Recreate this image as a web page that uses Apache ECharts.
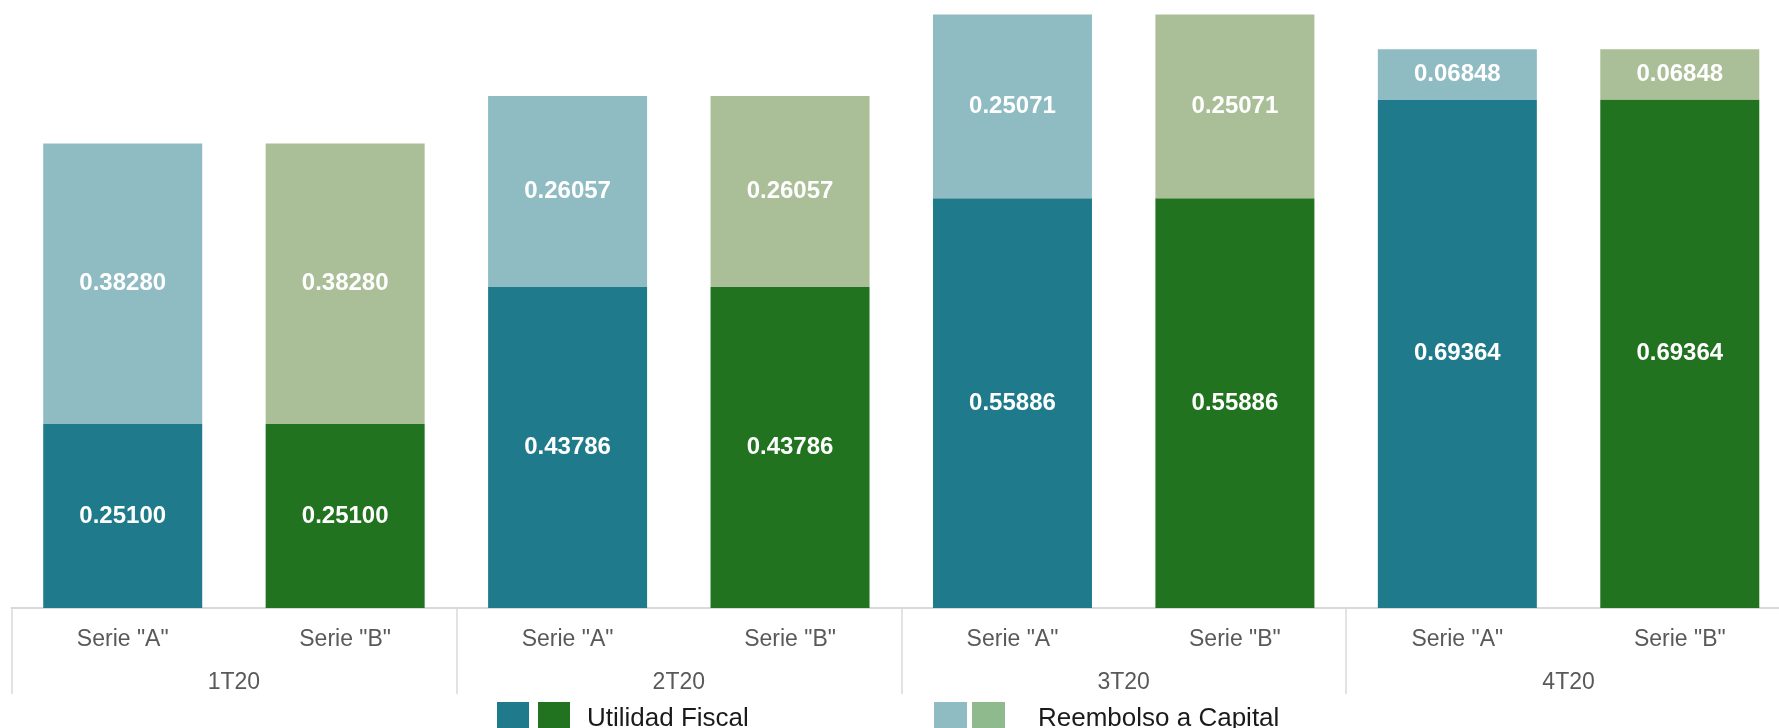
<!DOCTYPE html>
<html>
<head>
<meta charset="utf-8">
<script src="https://cdn.jsdelivr.net/npm/echarts@6/dist/echarts.min.js"></script>
<style>
  html, body { margin: 0; padding: 0; background: #fff; }
  #chart { width: 1779px; height: 728px; }
</style>
</head>
<body>
<div id="chart"></div>
<script>
// categorías y valores
const series_labels = ['Serie "A"', 'Serie "B"', 'Serie "A"', 'Serie "B"', 'Serie "A"', 'Serie "B"', 'Serie "A"', 'Serie "B"']
const quarters = ['1T20', '2T20', '3T20', '4T20']
const utilidadA = [0.25100, 0.43786, 0.55886, 0.69364]
const utilidadB = [0.25100, 0.43786, 0.55886, 0.69364]
const reembolsoA = [0.38280, 0.26057, 0.25071, 0.06848]
const reembolsoB = [0.38280, 0.26057, 0.25071, 0.06848]

const FONT = '"Liberation Sans", Arial, sans-serif'

// coloca cada valor en su columna (A = par, B = impar)
const spread = (vals, slot) => {
  const out = []
  vals.forEach(v => {
    out.push(slot === 0 ? v : 0)
    out.push(slot === 1 ? v : 0)
  })
  return out
}

const label = {
  show: true,
  position: 'inside',
  color: '#fff',
  fontFamily: FONT,
  fontWeight: 'bold',
  fontSize: 24,
  formatter: p => (p.value ? p.value.toFixed(5) : '')
}

const mkSeries = (name, data, color) => ({
  name,
  type: 'bar',
  stack: 'total',
  barWidth: 159,
  data,
  itemStyle: { color },
  label,
  emphasis: { disabled: true }
})

const chart = echarts.init(document.getElementById('chart'))
chart.setOption({
  animation: false,
  // el área de trazado sobresale un poco por la derecha, como en el original
  grid: { left: 11.5, right: -12, top: 6.9, bottom: 120, containLabel: false, outerBoundsMode: 'none' },
  legend: [
    {
      data: [
        { name: 'uA', itemStyle: { color: '#1f7b8b' } },
        { name: 'uB', itemStyle: { color: '#22731f' } }
      ],
      left: 492, top: 697,
      itemWidth: 32, itemHeight: 33, itemGap: 9,
      icon: 'rect', selectedMode: false,
      formatter: n => (n === 'uB' ? 'Utilidad Fiscal' : ''),
      textStyle: { fontFamily: FONT, fontSize: 26, color: '#1a1a1a', padding: [0, 0, 0, 12] }
    },
    {
      data: [
        { name: 'rA', itemStyle: { color: '#8fbcc3' } },
        { name: 'rB', itemStyle: { color: '#8fba8d' } }
      ],
      left: 929, top: 697,
      itemWidth: 33, itemHeight: 33, itemGap: 5,
      icon: 'rect', selectedMode: false,
      formatter: n => (n === 'rB' ? 'Reembolso a Capital' : ''),
      textStyle: { fontFamily: FONT, fontSize: 26, color: '#1a1a1a', padding: [0, 0, 0, 28] }
    }
  ],
  xAxis: [
    {
      type: 'category',
      data: series_labels,
      position: 'bottom',
      axisLine: { show: true, lineStyle: { color: '#d9d9d9', width: 2 } },
      axisTick: { show: false },
      axisLabel: { interval: 0, margin: 20, fontFamily: FONT, fontSize: 23, color: '#595959' }
    },
    {
      type: 'category',
      data: quarters,
      position: 'bottom',
      axisLine: { show: false },
      axisTick: { show: true, length: 86, interval: 0, lineStyle: { color: '#d9d9d9', width: 1.5 } },
      axisLabel: { interval: 0, margin: 63, fontFamily: FONT, fontSize: 23, color: '#595959' }
    }
  ],
  yAxis: { type: 'value', min: 0, max: 0.82, show: false, splitLine: { show: false } },
  series: [
    mkSeries('uA', spread(utilidadA, 0), '#1f7b8b'),
    mkSeries('uB', spread(utilidadB, 1), '#22731f'),
    mkSeries('rA', spread(reembolsoA, 0), '#8fbcc3'),
    mkSeries('rB', spread(reembolsoB, 1), '#aabf98')
  ]
})
</script>
</body>
</html>
